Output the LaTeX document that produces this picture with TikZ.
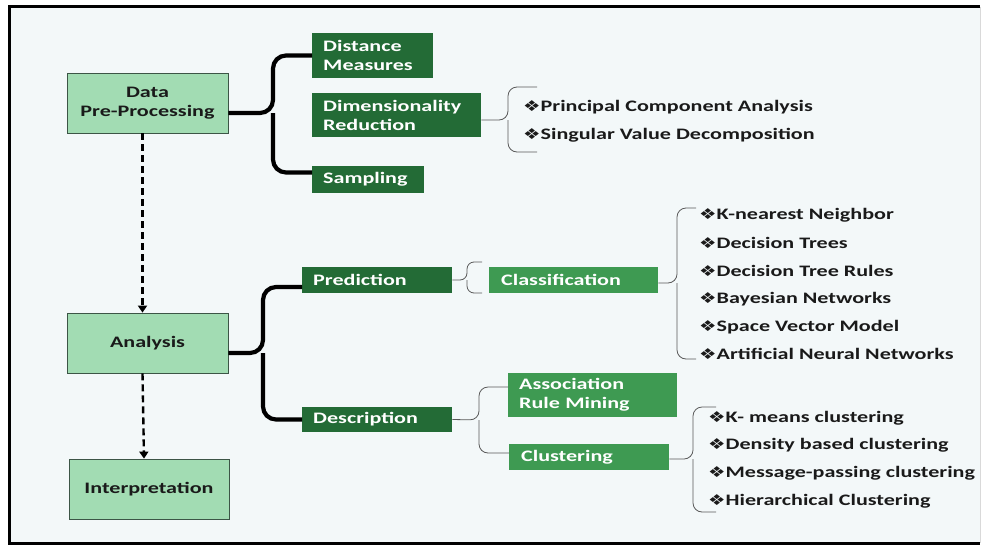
\documentclass[tikz,border=0pt]{standalone}
\usepackage{fontspec}
\setmainfont{Carlito}[FakeStretch=1.38]
\newfontfamily\bulletfont{DejaVu Sans}[FakeStretch=1.3]
\usetikzlibrary{arrows.meta}
\definecolor{bgpale}{HTML}{F3F8F9}
\definecolor{stagegreen}{HTML}{A2DCB3}
\definecolor{stageedge}{HTML}{3C5546}
\definecolor{darkleaf}{HTML}{236B36}
\definecolor{midleaf}{HTML}{3E9A52}
\definecolor{inktext}{HTML}{1A1A1A}
\newcommand{\itm}[1]{{\bulletfont\fontsize{15}{15}\selectfont\char"2756}#1}
\tikzset{
  stage/.style={draw=stageedge,fill=stagegreen,line width=0.8pt,text=inktext,
    minimum width=161pt,minimum height=60pt,align=center,
    font=\bfseries\fontsize{16}{19}\selectfont},
  darkbox/.style={fill=darkleaf,text=white,anchor=west,align=left,
    inner xsep=11pt,inner ysep=0pt,font=\bfseries\fontsize{16}{19}\selectfont},
  midbox/.style={darkbox,fill=midleaf},
  item/.style={anchor=west,text=inktext,inner sep=0pt,
    font=\bfseries\fontsize{16}{19}\selectfont},
  bigbrace/.style={line width=4.2pt,rounded corners=13pt},
  thinbrace/.style={draw=black!65,line width=0.8pt,rounded corners=9pt},
  flow/.style={line width=2.4pt,dash pattern=on 7pt off 4pt,
    -{Triangle[width=9pt,length=7pt]}}
}
\begin{document}
\begin{tikzpicture}[x=1pt,y=-1pt]
	% frame
	\useasboundingbox (0,0) rectangle (984,546);
	\fill[white] (0,0) rectangle (984,546);
	\fill[bgpale] (9,6.5) rectangle (980,543);
	\draw[black!15,line width=1pt] (980,6.5) -- (980,543);
	\draw[line width=3pt] (980,6.5) -- (9,6.5) -- (9,543) -- (980,543);
	% stages
	\node[stage] (data) at (147.5,103) {Data\\Pre-Processing};
	\node[stage] (analysis) at (147.5,343) {Analysis};
	\node[stage,minimum width=160pt] (interp) at (149,489) {Interpretation};
	\draw[flow] ([xshift=-5pt]data.south) -- ([xshift=-5pt]analysis.north);
	\draw[flow] ([xshift=-5pt]analysis.south) -- ([xshift=-5pt]interp.north);
	% pre-processing branch
	\node[darkbox,text width=99pt,minimum height=45pt] (dist) at (312,55.5) {Distance\\Measures};
	\node[darkbox,text width=147pt,minimum height=44pt] (dimred) at (312,115) {Dimensionality\\Reduction};
	\node[darkbox,text width=90pt,minimum height=27pt] (sampling) at (312,179.5) {Sampling};
	\draw[bigbrace] (dist.west) -| (273,113) -- ([yshift=-10pt]data.east);
	\draw[bigbrace] ([yshift=7pt]sampling.west) -| (273,113);
	\coordinate (dimtop) at (537,87);
	\coordinate (dimbot) at (537,152);
	\draw[thinbrace] (dimtop) -| (508,120) -- ([yshift=-5pt]dimred.east);
	\draw[thinbrace] (dimbot) -| (508,120);
	\node[item] (pca) at (523,107) {\itm{Principal Component Analysis}};
	\node[item] (svd) at (523,135) {\itm{Singular Value Decomposition}};
	% analysis branch
	\node[darkbox,text width=128pt,minimum height=26pt] (pred) at (302,280) {Prediction};
	\node[darkbox,text width=128pt,minimum height=25pt] (desc) at (302,419.5) {Description};
	\draw[bigbrace] ([yshift=-7pt]pred.west) -| (263,353) -- ([yshift=-10pt]analysis.east);
	\draw[bigbrace] (desc.west) -| (263,353);
	% prediction
	\node[midbox,inner xsep=12pt,text width=145pt,minimum height=26pt] (classif) at (489,280) {Classification};
	\coordinate (predtop) at (482,262);
	\coordinate (predbot) at (482,293);
	\draw[thinbrace,rounded corners=7pt] (predtop) -| (467,280) -- (pred.east);
	\draw[thinbrace,rounded corners=7pt] (predbot) -| (467,280);
	\coordinate (clstop) at (696,208);
	\coordinate (clsbot) at (696,359);
	\draw[thinbrace] (clstop) -| (677,283) -- ([yshift=-3pt]classif.east);
	\draw[thinbrace] (clsbot) -| (677,283);
	\node[item] (knn) at (699,215) {\itm{K-nearest Neighbor}};
	\node[item] (dtree) at (699,243) {\itm{Decision Trees}};
	\node[item] (drules) at (699,271) {\itm{Decision Tree Rules}};
	\node[item] (bayes) at (699,299) {\itm{Bayesian Networks}};
	\node[item] (svm) at (699,327) {\itm{Space Vector Model}};
	\node[item] (ann) at (699,354) {\itm{Artificial Neural Networks}};
	% description
	\node[midbox,text width=147pt,minimum height=44pt] (assoc) at (508,395) {Association\\Rule Mining};
	\node[midbox,inner xsep=12pt,text width=136pt,minimum height=26pt] (clust) at (509,457) {Clustering};
	\draw[thinbrace] ([yshift=8pt]assoc.west) -| (479,420) -- (desc.east);
	\draw[thinbrace] ([yshift=4pt]clust.west) -| (479,420);
	\coordinate (cltop) at (716,407);
	\coordinate (clbot) at (716,512);
	\draw[thinbrace] (cltop) -| (693,459) -- ([yshift=-2pt]clust.east);
	\draw[thinbrace] (clbot) -| (693,459);
	\node[item] (kmeans) at (708,418) {\itm{K- means clustering}};
	\node[item] (dens) at (708,445) {\itm{Density based clustering}};
	\node[item] (msg) at (708,473) {\itm{Message-passing clustering}};
	\node[item] (hier) at (708,501) {\itm{Hierarchical Clustering}};
\end{tikzpicture}
\end{document}
